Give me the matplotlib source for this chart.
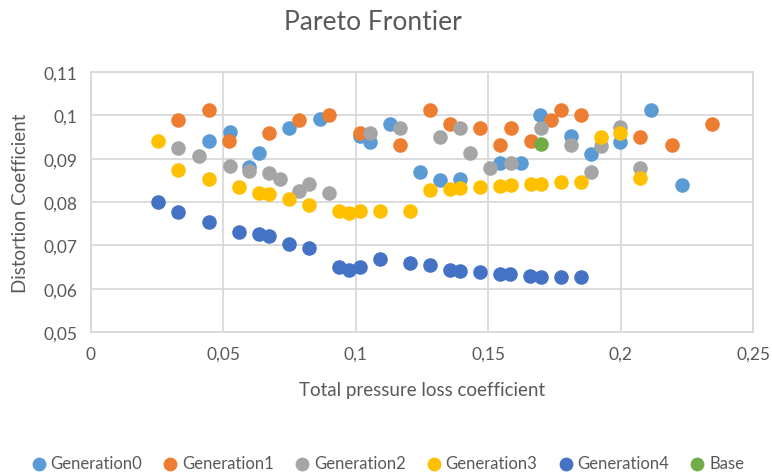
import matplotlib.pyplot as plt
from matplotlib.ticker import FuncFormatter, MultipleLocator

plt.rcParams['font.family'] = ['Lato', 'DejaVu Sans']

# データ
gen0_x = [0.0447, 0.0524, 0.0636, 0.0598, 0.0749, 0.0863, 0.1014, 0.1054, 0.1130, 0.1243,
          0.1319, 0.1394, 0.1546, 0.1624, 0.1697, 0.1813, 0.1888, 0.1999, 0.2113, 0.2231]
gen0_y = [0.0941, 0.0961, 0.0912, 0.0881, 0.0970, 0.0991, 0.0952, 0.0939, 0.0981, 0.0870,
          0.0851, 0.0854, 0.0889, 0.0889, 0.1000, 0.0952, 0.0911, 0.0939, 0.1012, 0.0839]

gen1_x = [0.0330, 0.0447, 0.0523, 0.0674, 0.0787, 0.0899, 0.1017, 0.1168, 0.1281, 0.1357,
          0.1470, 0.1546, 0.1586, 0.1662, 0.1737, 0.1775, 0.1851, 0.2075, 0.2193, 0.2344]
gen1_y = [0.0989, 0.1012, 0.0941, 0.0960, 0.0989, 0.1000, 0.0960, 0.0931, 0.1012, 0.0981,
          0.0970, 0.0931, 0.0970, 0.0941, 0.0989, 0.1012, 0.1000, 0.0950, 0.0931, 0.0979]

gen2_x = [0.0330, 0.0406, 0.0524, 0.0598, 0.0674, 0.0712, 0.0787, 0.0825, 0.0899, 0.1054,
          0.1168, 0.1319, 0.1394, 0.1432, 0.1508, 0.1586, 0.1700, 0.1813, 0.1888, 0.1926,
          0.1999, 0.2075]
gen2_y = [0.0925, 0.0906, 0.0883, 0.0871, 0.0868, 0.0854, 0.0825, 0.0842, 0.0821, 0.0960,
          0.0970, 0.0951, 0.0970, 0.0912, 0.0879, 0.0889, 0.0970, 0.0931, 0.0869, 0.0929,
          0.0972, 0.0879]

gen3_x = [0.0254, 0.0330, 0.0447, 0.0560, 0.0636, 0.0674, 0.0749, 0.0825, 0.0938, 0.0976,
          0.1017, 0.1092, 0.1206, 0.1281, 0.1357, 0.1394, 0.1470, 0.1546, 0.1586, 0.1662,
          0.1700, 0.1775, 0.1851, 0.1926, 0.1999, 0.2075]
gen3_y = [0.0941, 0.0874, 0.0854, 0.0835, 0.0821, 0.0818, 0.0806, 0.0793, 0.0779, 0.0775,
          0.0779, 0.0779, 0.0779, 0.0828, 0.0831, 0.0833, 0.0835, 0.0837, 0.0839, 0.0841,
          0.0841, 0.0845, 0.0847, 0.0951, 0.0960, 0.0855]

gen4_x = [0.0254, 0.0330, 0.0447, 0.0560, 0.0636, 0.0674, 0.0749, 0.0825, 0.0938, 0.0976,
          0.1017, 0.1092, 0.1206, 0.1281, 0.1357, 0.1394, 0.1470, 0.1543, 0.1583, 0.1659,
          0.1700, 0.1775, 0.1851]
gen4_y = [0.0800, 0.0778, 0.0754, 0.0731, 0.0727, 0.0721, 0.0704, 0.0693, 0.0651, 0.0644,
          0.0651, 0.0669, 0.0660, 0.0654, 0.0643, 0.0641, 0.0638, 0.0635, 0.0633, 0.0629,
          0.0627, 0.0627, 0.0627]

base_x = [0.1700]
base_y = [0.0935]

series = [
    ('Generation0', gen0_x, gen0_y, '#5B9BD5'),
    ('Generation1', gen1_x, gen1_y, '#ED7D31'),
    ('Generation2', gen2_x, gen2_y, '#A5A5A5'),
    ('Generation3', gen3_x, gen3_y, '#FFC000'),
    ('Generation4', gen4_x, gen4_y, '#4472C4'),
    ('Base', base_x, base_y, '#70AD47'),
]

text_color = '#595959'
grid_color = '#D9D9D9'

fig = plt.figure(figsize=(7.72, 4.77), dpi=100)
ax = fig.add_axes([91 / 772, 1 - 333 / 477, 662 / 772, 260 / 477])

for label, xs, ys, color in series:
    ax.scatter(xs, ys, s=110, color=color, label=label, linewidths=0, zorder=3)

ax.set_xlim(0, 0.25)
ax.set_ylim(0.05, 0.11)
ax.xaxis.set_major_locator(MultipleLocator(0.05))
ax.yaxis.set_major_locator(MultipleLocator(0.01))

# カンマ区切りの小数表記
comma_fmt = FuncFormatter(lambda v, pos: f'{round(v, 4):g}'.replace('.', ','))
ax.xaxis.set_major_formatter(comma_fmt)
ax.yaxis.set_major_formatter(comma_fmt)

ax.grid(True, color=grid_color, linewidth=1.3, zorder=0)
for sp in ax.spines.values():
    sp.set_color(grid_color)
    sp.set_linewidth(1.3)
ax.tick_params(length=0, labelsize=12.5, colors=text_color, pad=10)

ax.set_xlabel('Total pressure loss coefficient', fontsize=13.5, color=text_color, labelpad=14)
ax.set_ylabel('Distortion Coefficient', fontsize=13.5, color=text_color, labelpad=10)
fig.text(373 / 772, 1 - 22 / 477, 'Pareto Frontier', ha='center', va='center',
         fontsize=19, color=text_color)

fig.legend(loc='center', bbox_to_anchor=(388 / 772, 1 - 464 / 477), ncol=6, frameon=False,
           fontsize=12, labelcolor=text_color, handlelength=0.8, handletextpad=0.3,
           columnspacing=1.3, markerscale=0.95, borderaxespad=0)

fig.savefig('out.png', dpi=100)
